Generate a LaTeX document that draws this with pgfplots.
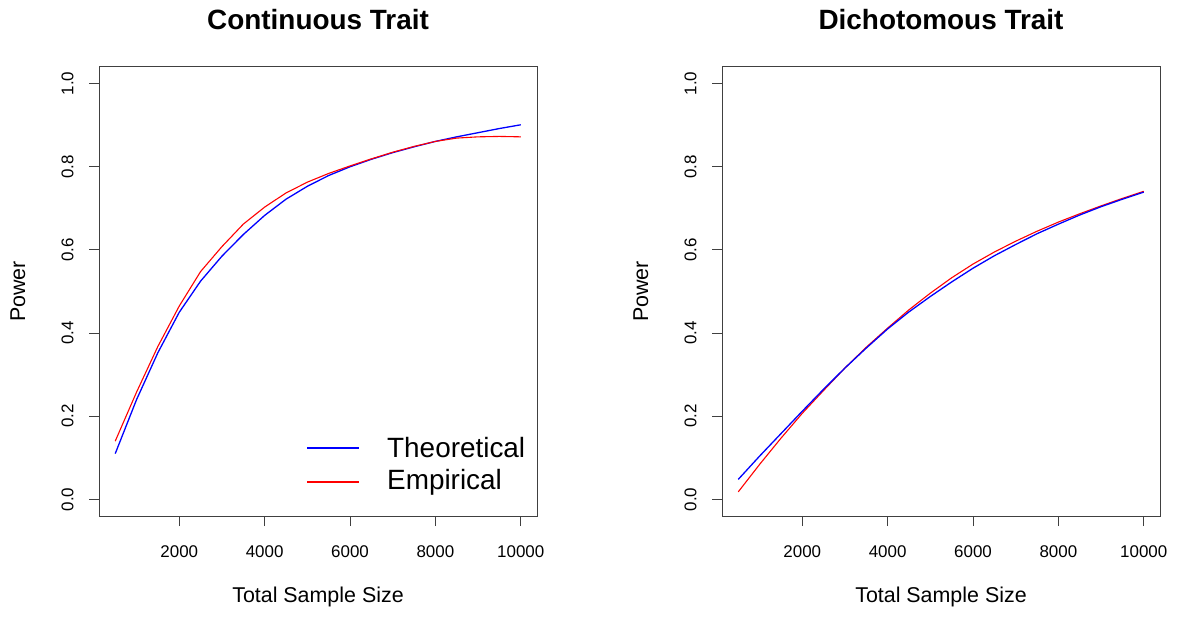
\documentclass[border=0pt]{standalone}
\usepackage{pgfplots}
\pgfplotsset{compat=1.18}
\usepackage{pgfplotstable}
\usepackage{fontspec}
\setmainfont{Liberation Sans}

\pgfplotstableread{
n theo emp
500 0.110 0.140
1000 0.240 0.258
1500 0.353 0.368
2000 0.450 0.465
2500 0.525 0.548
3000 0.585 0.608
3500 0.637 0.662
4000 0.683 0.703
4500 0.722 0.737
5000 0.753 0.763
5500 0.779 0.784
6000 0.800 0.802
6500 0.818 0.819
7000 0.834 0.835
7500 0.848 0.849
8000 0.861 0.861
8500 0.872 0.869
9000 0.882 0.872
9500 0.892 0.873
10000 0.901 0.872
}\contdata

\pgfplotstableread{
n theo emp
500 0.048 0.018
1000 0.104 0.084
1500 0.158 0.147
2000 0.212 0.207
2500 0.265 0.262
3000 0.316 0.316
3500 0.364 0.366
4000 0.410 0.412
4500 0.451 0.456
5000 0.488 0.496
5500 0.523 0.533
6000 0.556 0.566
6500 0.586 0.595
7000 0.613 0.621
7500 0.639 0.645
8000 0.662 0.667
8500 0.684 0.687
9000 0.704 0.706
9500 0.722 0.724
10000 0.739 0.741
}\dichdata

\pgfplotsset{
  rstyle/.style={
    scale only axis,
    width=438bp, height=449bp,
    xmin=120, xmax=10380, ymin=-0.04, ymax=1.04,
    axis line style={black!75, line width=1bp},
    tick style={black!75, line width=1bp},
    tick align=outside,
    major tick length=10bp,
    xtick pos=bottom, ytick pos=left,
    xtick={2000,4000,6000,8000,10000},
    xticklabels={2000,4000,6000,8000,10000},
    ytick={0,0.2,0.4,0.6,0.8,1.0},
    yticklabels={0.0,0.2,0.4,0.6,0.8,1.0},
    scaled x ticks=false, scaled y ticks=false,
    tick label style={font=\fontsize{17}{20}\selectfont},
    xticklabel style={anchor=center, yshift=-26bp},
    yticklabel style={anchor=center, xshift=-21.5bp, rotate=90},
    xlabel={Total Sample Size},
    ylabel={Power},
    label style={font=\fontsize{21.5}{25}\selectfont},
    xlabel style={at={(axis description cs:0.5,-0.18)}, anchor=center},
    ylabel style={at={(axis description cs:-0.185,0.5)}, anchor=center, rotate=0},
    title style={font=\fontsize{28}{32}\selectfont\bfseries, at={(axis description cs:0.5,1.092)}, anchor=center},
    clip=false,
  }
}

\begin{document}
\begin{tikzpicture}
\useasboundingbox (0,0) rectangle (1179bp,617bp);
\begin{axis}[rstyle, at={(99bp,101bp)}, anchor=south west,
  title={Continuous Trait}]
\addplot[draw=blue, line width=1.3bp] table[x=n, y=theo] {\contdata};
\addplot[draw=red, line width=1.1bp] table[x=n, y=emp] {\contdata};
% legend
\draw[blue, line width=1.3bp] (axis description cs:0.4749,0.1514) -- ++(52bp,0bp);
\draw[red, line width=1.1bp] (axis description cs:0.4749,0.0757) -- ++(52bp,0bp);
\node[anchor=west, inner sep=0pt, font=\fontsize{28}{32}\selectfont] at (axis description cs:0.6575,0.1514) {Theoretical};
\node[anchor=west, inner sep=0pt, font=\fontsize{28}{32}\selectfont] at (axis description cs:0.6575,0.0757) {Empirical};
\end{axis}
\begin{axis}[rstyle, at={(722bp,101bp)}, anchor=south west,
  title={Dichotomous Trait}]
\addplot[draw=red, line width=1.1bp] table[x=n, y=emp] {\dichdata};
\addplot[draw=blue, line width=1.3bp] table[x=n, y=theo] {\dichdata};
\end{axis}
\end{tikzpicture}
\end{document}
